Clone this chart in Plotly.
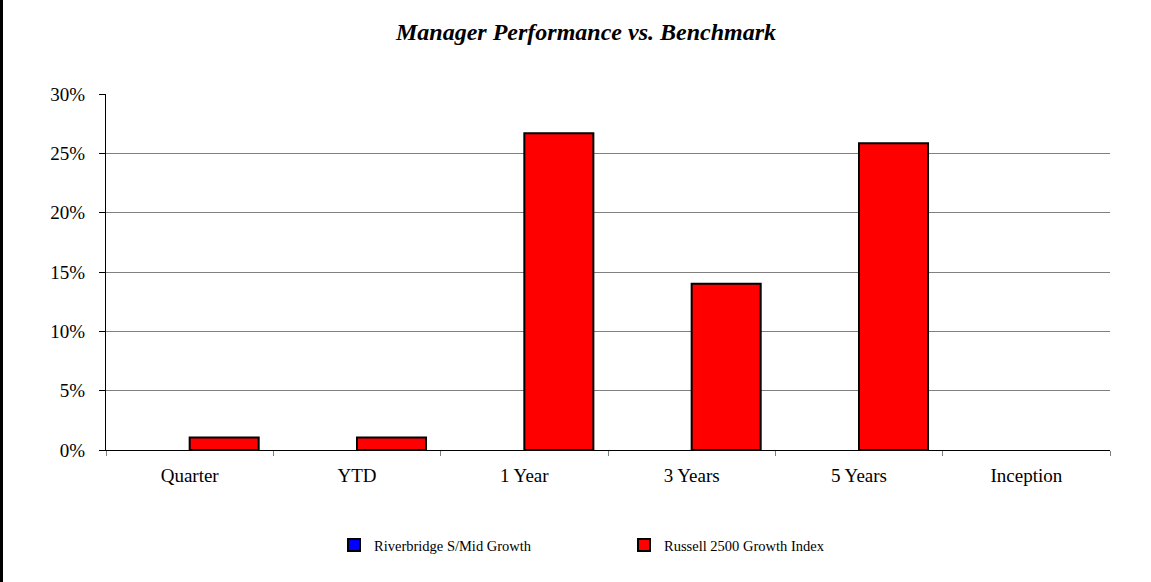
import plotly.graph_objects as go

categories = ["Quarter", "YTD", "1 Year", "3 Years", "5 Years", "Inception"]
manager_values = [None, None, None, None, None, None]
benchmark_values = [1.05, 1.05, 26.7, 14.0, 25.85, None]
manager_name = "Riverbridge S/Mid Growth"
benchmark_name = "Russell 2500 Growth Index"
y_ticks = [0, 5, 10, 15, 20, 25, 30]
y_tick_labels = [f"{v}%" for v in y_ticks]

FONT = "Liberation Serif, Times New Roman, serif"
W, H = 1151, 582
L, R, T, B = 106, 41, 94, 132
pw = W - L - R
ph = H - T - B

fig = go.Figure()
fig.add_trace(go.Bar(
    x=categories, y=manager_values, name=manager_name,
    marker=dict(color="#0000FF", line=dict(color="black", width=2)),
))
fig.add_trace(go.Bar(
    x=categories, y=benchmark_values, name=benchmark_name,
    marker=dict(color="#FF0000", line=dict(color="black", width=2)),
))

fig.update_layout(
    width=W, height=H,
    margin=dict(l=L, r=R, t=T, b=B, pad=0),
    paper_bgcolor="white", plot_bgcolor="white",
    barmode="group", bargap=0.175, bargroupgap=0,
    font=dict(family=FONT, color="black", size=19),
    title=dict(
        text="<b><i>Manager Performance vs. Benchmark</i></b>",
        font=dict(family=FONT, size=24, color="black"),
        xref="paper", x=(586 - L) / pw, xanchor="center",
        yref="container", y=1 - 32 / H, yanchor="middle",
    ),
    showlegend=True,
    legend=dict(
        orientation="h",
        x=(334 - L) / pw, xanchor="left",
        y=(450 - 545) / ph, yanchor="middle",
        font=dict(family=FONT, size=14.5, color="black"),
        entrywidth=245, entrywidthmode="pixels",
        itemwidth=30,
        bgcolor="rgba(0,0,0,0)",
        traceorder="normal",
    ),
    xaxis=dict(
        type="category",
        showline=True, linecolor="black", linewidth=1,
        ticks="outside", tickson="boundaries", ticklen=5, tickcolor="#808080",
        showgrid=False,
        ticklabelstandoff=8,
        tickfont=dict(family=FONT, size=19, color="black"),
    ),
    yaxis=dict(
        range=[0, 30], tickmode="array", tickvals=y_ticks, ticktext=y_tick_labels,
        showline=True, linecolor="black", linewidth=1,
        ticks="outside", ticklen=6, tickcolor="black",
        showgrid=True, gridcolor="#808080", gridwidth=1,
        zeroline=False,
        ticklabelstandoff=10,
        tickfont=dict(family=FONT, size=19, color="black"),
    ),
)

fig.add_shape(
    type="line", xref="paper", yref="paper",
    x0=(1.5 - L) / pw, x1=(1.5 - L) / pw,
    y0=-B / ph, y1=1 + T / ph,
    line=dict(color="black", width=3),
)

fig.write_html(
    "out.html",
    config={"displayModeBar": False},
    post_script="document.body.style.margin='0';document.body.style.overflow='hidden';",
)
